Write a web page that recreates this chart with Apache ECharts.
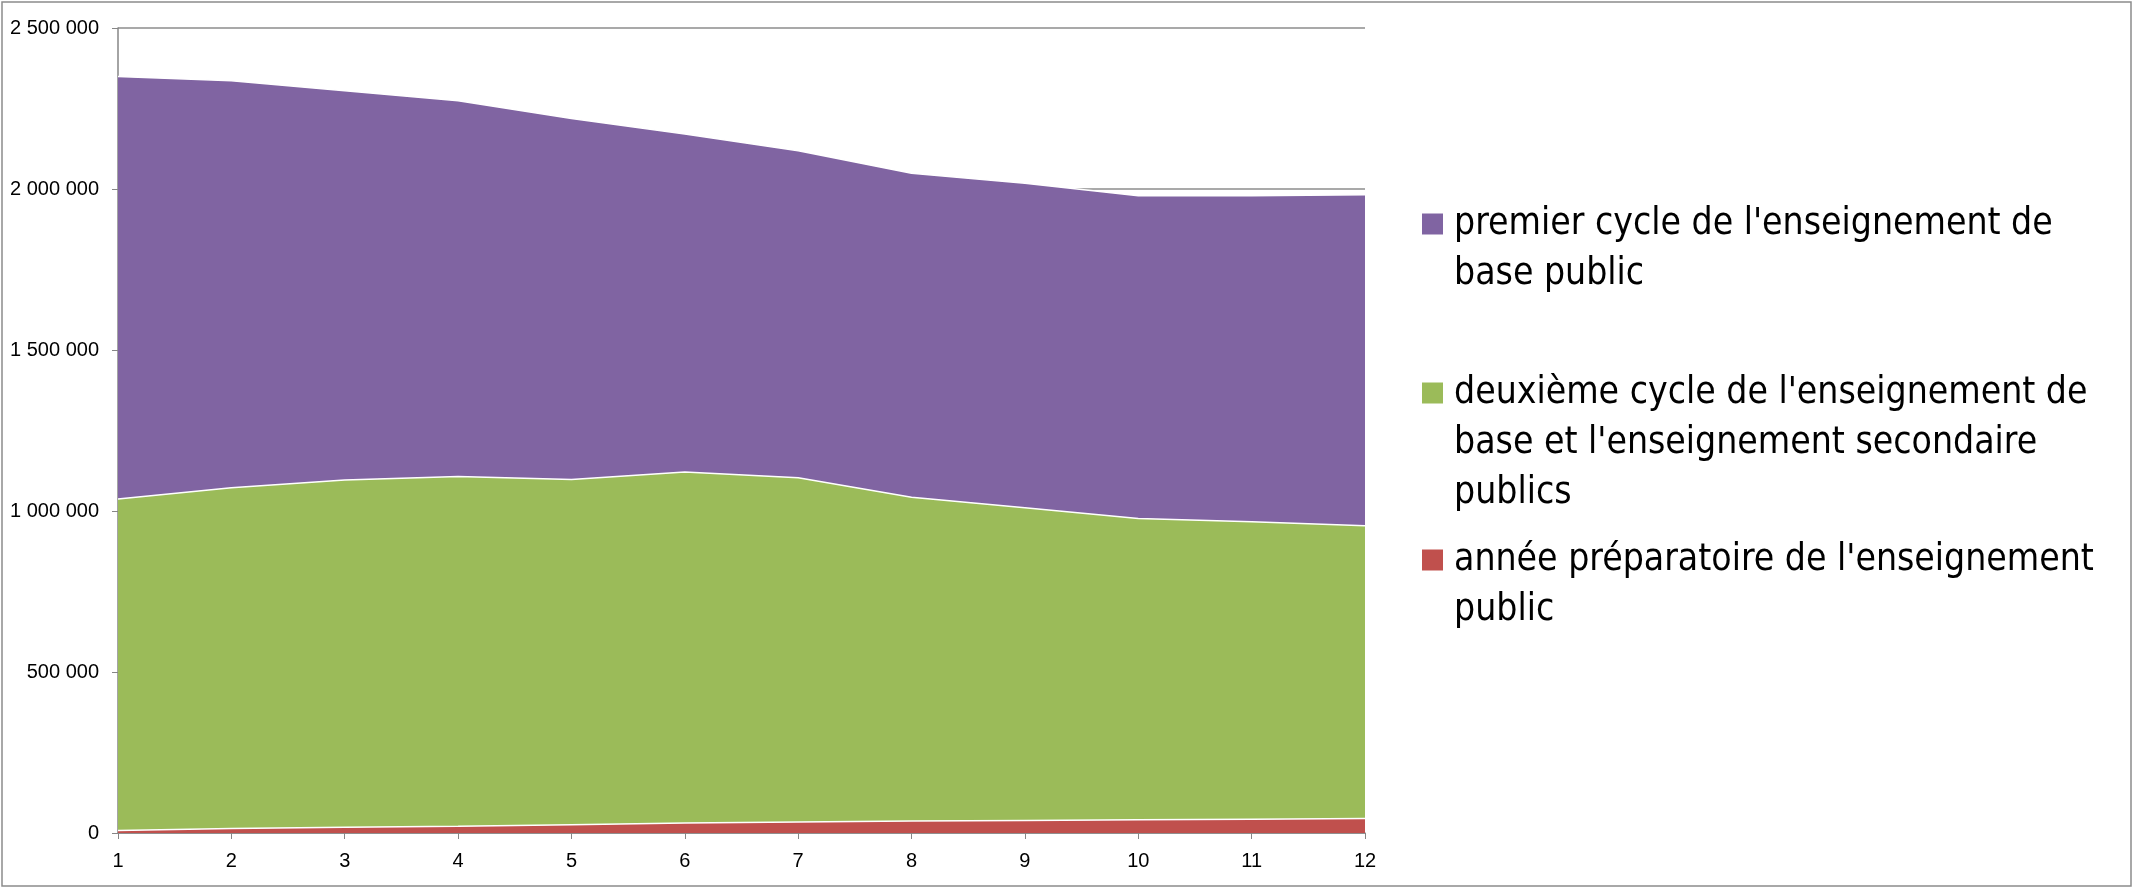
<!DOCTYPE html>
<html>
<head>
<meta charset="utf-8">
<script src="https://cdn.jsdelivr.net/npm/echarts@6/dist/echarts.min.js"></script>
<style>
html,body{margin:0;padding:0;background:#fff;}
#chart{width:2134px;height:888px;}
</style>
</head>
<body>
<div id="chart"></div>
<script>
const categories = ['1','2','3','4','5','6','7','8','9','10','11','12'];
const seriesNames = [
  "année préparatoire de l'enseignement public",
  "deuxième cycle de l'enseignement de base et l'enseignement secondaire publics",
  "premier cycle de l'enseignement de base public"
];
const legendLines = [
  ["année préparatoire de l'enseignement", "public"],
  ["deuxième cycle de l'enseignement de", "base et l'enseignement secondaire", "publics"],
  ["premier cycle de l'enseignement de", "base public"]
];
const anneePreparatoire = [8000, 14000, 18000, 21000, 26000, 31000, 34000, 37000, 39000, 41000, 43000, 45000];
const deuxiemeCycle = [1029000, 1058000, 1078000, 1086000, 1072000, 1090000, 1069000, 1006000, 971000, 936000, 924000, 909000];
const premierCycle = [1312000, 1264000, 1209000, 1167000, 1121000, 1050000, 1016000, 1006000, 1008000, 1002000, 1012000, 1028000];
const colors = ['#C0504D', '#9BBB59', '#8064A2'];

const chart = echarts.init(document.getElementById('chart'), null, {renderer: 'canvas'});
const fmt = v => String(v).replace(/\B(?=(\d{3})+(?!\d))/g, ' ');
const LEG_FONT = "'Liberation Sans Narrow', 'DejaVu Sans Condensed', 'Liberation Sans', sans-serif";
const L = 50;
const PT = 10;
function mkLegend(idx, centerY) {
  const lines = legendLines[idx];
  const n = lines.length;
  // leading empty lines so that the marker (centred on the block) sits beside the first line
  const label = new Array(n - 1).fill('').concat(lines).join('\n');
  return {
    orient: 'vertical',
    left: 1422,
    top: centerY - ((2 * n - 1) * L + PT) / 2,
    padding: 0,
    itemWidth: 21,
    itemHeight: 21,
    icon: 'rect',
    data: [seriesNames[idx]],
    formatter: () => label,
    selectedMode: false,
    textStyle: {
      fontFamily: LEG_FONT,
      fontSize: 37,
      lineHeight: L,
      color: '#000',
      padding: [PT, 0, 0, 6]
    }
  };
}
const series = [anneePreparatoire, deuxiemeCycle, premierCycle].map((d, i) => ({
  name: seriesNames[i],
  type: 'line',
  stack: 'total',
  data: d,
  showSymbol: false,
  symbol: 'none',
  lineStyle: {color: '#ffffff', width: 1.5},
  itemStyle: {color: colors[i]},
  areaStyle: {color: colors[i], opacity: 1},
  emphasis: {disabled: true}
}));

chart.setOption({
  animation: false,
  backgroundColor: '#ffffff',
  grid: {left: 118, right: 769, top: 28, bottom: 55, containLabel: false},
  legend: [mkLegend(2, 224), mkLegend(1, 393), mkLegend(0, 560)],
  xAxis: {
    type: 'category',
    data: categories,
    boundaryGap: false,
    axisLine: {lineStyle: {color: '#868686', width: 1.5}},
    axisTick: {show: true, alignWithLabel: true, length: 6, lineStyle: {color: '#868686'}},
    axisLabel: {color: '#000', fontSize: 20, fontFamily: "'Liberation Sans', sans-serif", margin: 18, interval: 0},
    splitLine: {show: false}
  },
  yAxis: {
    type: 'value',
    min: 0,
    max: 2500000,
    interval: 500000,
    axisLine: {show: true, lineStyle: {color: '#868686', width: 1.5}},
    axisTick: {show: true, length: 6, lineStyle: {color: '#868686'}},
    axisLabel: {color: '#000', fontSize: 20, fontFamily: "'Liberation Sans', sans-serif", margin: 19, formatter: fmt},
    splitLine: {show: true, lineStyle: {color: '#8c8c8c', width: 1.5}}
  },
  series: series,
  graphic: [{
    type: 'rect',
    shape: {x: 2, y: 2, width: 2129, height: 884},
    style: {fill: null, stroke: '#8c8c8c', lineWidth: 1.5},
    silent: true,
    z: 100
  }]
});
</script>
</body>
</html>
